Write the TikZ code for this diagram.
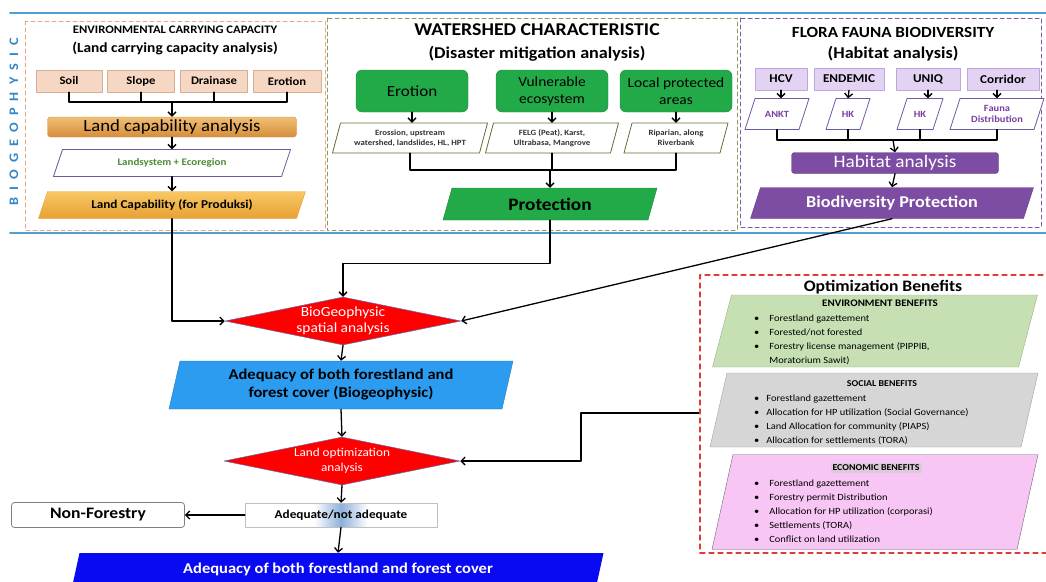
\documentclass[tikz,border=0pt]{standalone}
\usepackage{fontspec}
\setmainfont{Carlito}[FakeStretch=1.1]
\usetikzlibrary{shapes.geometric,arrows.meta,positioning}
\definecolor{bandblue}{HTML}{4F9FD2}
\definecolor{geoblue}{HTML}{2F86C8}
\definecolor{ecdash}{HTML}{E9A580}
\definecolor{wsdash}{HTML}{8C9A5C}
\definecolor{fbdash}{HTML}{8458A8}
\definecolor{peachfill}{HTML}{F6D7C3}
\definecolor{peachline}{HTML}{D8AE92}
\definecolor{lcatop}{HTML}{F0BE74}
\definecolor{lcabot}{HTML}{D58E3C}
\definecolor{captop}{HTML}{F8C865}
\definecolor{capbot}{HTML}{E8A032}
\definecolor{lsline}{HTML}{7457A4}
\definecolor{lstext}{HTML}{4D8A33}
\definecolor{wsgreen}{HTML}{22AA48}
\definecolor{wsline}{HTML}{5E7030}
\definecolor{lavfill}{HTML}{E3D3F3}
\definecolor{lavline}{HTML}{C2A5E0}
\definecolor{habtext}{HTML}{7B3FA2}
\definecolor{habfill}{HTML}{7C4DA2}
\definecolor{redfill}{HTML}{FF0000}
\definecolor{redline}{HTML}{5A6EB0}
\definecolor{adqblue}{HTML}{2C9CF0}
\definecolor{adqmid}{HTML}{8CB0DA}
\definecolor{finalblue}{HTML}{0A0AF2}
\definecolor{optred}{HTML}{E03A3A}
\definecolor{envfill}{HTML}{C6E0B4}
\definecolor{envline}{HTML}{98AE86}
\definecolor{socfill}{HTML}{D6D6D6}
\definecolor{socline}{HTML}{A2A2A2}
\definecolor{ecofill}{HTML}{F8C6F4}
\definecolor{ecoline}{HTML}{6E6478}
\definecolor{ecotag}{HTML}{DCCAD8}
\pgfdeclarehorizontalshading{adqshade}{100bp}{color(0bp)=(white); color(43bp)=(white); color(50bp)=(adqmid); color(57bp)=(white); color(100bp)=(white)}
% parallelogram: path style, text style, name, cx, cy, width, height, slant, text
\newcommand{\pgram}[9]{%
  \path[#1] ({#4-#6/2},{#5+#7/2}) -- ({#4+#6/2-#8},{#5+#7/2}) -- ({#4+#6/2},{#5-#7/2}) -- ({#4-#6/2+#8},{#5-#7/2}) -- cycle;
  \node[minimum width={#6-#8},minimum height=#7,inner sep=0pt,align=center,#2] (#3) at (#4,#5) {#9};}
\tikzset{
  link/.style={line width=1.3pt},
  flow/.style={line width=1.3pt,->},
  panel/.style={line width=1pt,dash pattern=on 4pt off 3pt},
  peachbox/.style={draw=peachline,fill=peachfill,minimum height=22pt,inner sep=0pt,font=\bfseries\fontsize{11.5}{13}\selectfont},
  greenbox/.style={draw=wsgreen!80!black,fill=wsgreen,rounded corners=6pt,minimum width=112pt,minimum height=42pt,inner sep=0pt,align=center},
  wsline/.style={draw=wsline,fill=white,line width=0.8pt},
  wstext/.style={text=black!80,font=\bfseries\fontsize{8}{10}\selectfont},
  lavbox/.style={draw=lavline,fill=lavfill,minimum height=22pt,inner sep=0pt,font=\bfseries\fontsize{12}{14}\selectfont},
  habline/.style={draw=lsline,fill=white,line width=0.8pt},
  habtxt/.style={text=habtext,font=\bfseries\fontsize{9.5}{11}\selectfont},
  decide/.style={diamond,shape aspect=4.9,draw=redline,line width=0.5pt,fill=redfill,text=white,align=center,inner sep=0pt,minimum width=236pt,minimum height=48pt},
  benefit/.style={anchor=north west,inner sep=0pt,font=\fontsize{9.5}{14}\selectfont}
}
\begin{document}
\begin{tikzpicture}[x=1pt,y=-1pt,line cap=round,line join=round,>={Straight Barb[length=4pt,width=8pt]}]
  \useasboundingbox (0,0) rectangle (1046,581);
  \draw[bandblue,line width=2pt] (10,13) -- (1046,13);
  \draw[bandblue,line width=2pt] (10,233) -- (1046,233);
  \node[rotate=90,text=geoblue,font=\bfseries\fontsize{13}{15}\selectfont\addfontfeature{LetterSpace=55}] (band) at (14,122) {BIOGEOPHYSIC};
  \draw[panel,ecdash] (25,21) rectangle (325,230);
  \draw[panel,wsdash] (327,18) rectangle (737,230);
  \draw[panel,fbdash] (740,18) rectangle (1041,227);

  \node[font=\bfseries\fontsize{11.5}{13}\selectfont] (ectitle) at (175,30) {ENVIRONMENTAL CARRYING CAPACITY};
  \node[font=\bfseries\fontsize{14}{16}\selectfont] (ecsub) at (175,48) {(Land carrying capacity analysis)};
  \node[peachbox,minimum width=66pt] (soil) at (69,81) {Soil};
  \node[peachbox,minimum width=67pt] (slope) at (141,81) {Slope};
  \node[peachbox,minimum width=67pt] (drainase) at (214,81) {Drainase};
  \node[peachbox,minimum width=68pt] (erotion) at (287,81) {Erotion};
  \node[draw=lcabot,top color=lcatop,bottom color=lcabot,rounded corners=3pt,minimum width=249pt,minimum height=20pt,inner sep=0pt,font=\fontsize{17}{19}\selectfont] (lca) at (172,127) {Land capability analysis};
  \pgram{draw=lsline,fill=white,line width=0.8pt}{text=lstext,font=\bfseries\fontsize{10}{12}\selectfont}{lsys}{172}{163}{237}{27}{9}{Landsystem + Ecoregion}
  \pgram{draw=capbot,top color=captop,bottom color=capbot}{font=\bfseries\fontsize{12}{14}\selectfont}{landcap}{172}{205}{267}{27}{9}{Land Capability (for Produksi)}
  \coordinate (ecjoin) at (172,102);
  \draw[link] (soil.south) |- (ecjoin) (erotion.south) |- (ecjoin) (slope.south) -- (slope.south |- ecjoin) (drainase.south) -- (drainase.south |- ecjoin);
  \draw[flow] (ecjoin) -- (lca.north);
  \draw[flow] (lca.south) -- (lsys.north);
  \draw[flow] (lsys.south) -- (landcap.north);

  \node[font=\bfseries\fontsize{18}{20}\selectfont] (wstitle) at (537,30) {WATERSHED CHARACTERISTIC};
  \node[font=\bfseries\fontsize{16.5}{18}\selectfont] (wssub) at (537,54) {(Disaster mitigation analysis)};
  \node[greenbox,font=\fontsize{15.5}{17}\selectfont] (wserot) at (412,91) {Erotion};
  \node[greenbox,font=\fontsize{14}{17}\selectfont] (wsvuln) at (552,91) {Vulnerable\\ecosystem};
  \node[greenbox,font=\fontsize{14}{17}\selectfont] (wslocal) at (676,91) {Local protected\\areas};
  \pgram{wsline}{wstext}{wsp1}{410}{138}{155}{30}{8}{Erossion, upstream\\watershed, landslides, HL, HPT}
  \pgram{wsline}{wstext}{wsp2}{552}{138}{133}{30}{8}{FELG (Peat), Karst,\\Ultrabasa, Mangrove}
  \pgram{wsline}{wstext}{wsp3}{676}{138}{104}{30}{8}{Riparian, along\\Riverbank}
  \pgram{draw=wsgreen!80!black,fill=wsgreen}{font=\bfseries\fontsize{17.5}{19}\selectfont}{protect}{550}{204}{214}{32}{9}{Protection}
  \draw[flow] (wserot.south) -- (wserot.south |- wsp1.north);
  \draw[flow] (wsvuln.south) -- (wsp2.north);
  \draw[flow] (wslocal.south) -- (wsp3.north);
  \coordinate (wsjoin) at (550,170);
  \draw[link] (wsp1.south) |- (wsjoin) (wsp3.south) |- (wsjoin) (wsp2.south) -- (wsp2.south |- wsjoin);
  \draw[flow] (wsjoin) -- (protect.north);

  \node[font=\bfseries\fontsize{15.5}{17}\selectfont] (fbtitle) at (893,32) {FLORA FAUNA BIODIVERSITY};
  \node[font=\bfseries\fontsize{16.5}{18}\selectfont] (fbsub) at (893,54) {(Habitat analysis)};
  \node[lavbox,minimum width=52pt] (hcv) at (781,79) {HCV};
  \node[lavbox,minimum width=70pt] (endemic) at (849,79) {ENDEMIC};
  \node[lavbox,minimum width=64pt] (uniq) at (928,79) {UNIQ};
  \node[lavbox,minimum width=72pt] (corridor) at (1003,79) {Corridor};
  \pgram{habline}{habtxt}{ankt}{777}{114}{64}{31}{10}{ANKT}
  \pgram{habline}{habtxt}{hk1}{848}{114}{44}{31}{10}{HK}
  \pgram{habline}{habtxt}{hk2}{920}{114}{46}{31}{10}{HK}
  \pgram{habline}{habtxt}{fauna}{997}{114}{94}{31}{10}{Fauna\\Distribution}
  \node[draw=habfill!80!black,fill=habfill,rounded corners=3pt,minimum width=207pt,minimum height=21pt,inner sep=0pt,text=white,font=\fontsize{17.5}{19}\selectfont] (habitat) at (895,163) {Habitat analysis};
  \pgram{draw=habfill!80!black,fill=habfill}{text=white,font=\bfseries\fontsize{16.5}{18}\selectfont}{biodiv}{892}{203}{283}{31}{10}{Biodiversity Protection}
  \draw[flow] (hcv.south) -- (hcv.south |- ankt.north);
  \draw[flow] (endemic.south) -- (hk1.north);
  \draw[flow] (uniq.south) -- (uniq.south |- hk2.north);
  \draw[flow] (fauna.north |- corridor.south) -- (fauna.north);
  \coordinate (fbjoin) at (893,140);
  \draw[link] (ankt.south) |- (fbjoin) (fauna.south) |- (fbjoin) (hk1.south) -- (hk1.south |- fbjoin) (hk2.south) -- (hk2.south |- fbjoin);
  \draw[flow] (fbjoin) -- (habitat.north);
  \draw[flow] (habitat.south) -- (biodiv.north);

  \node[decide,font=\fontsize{14}{16}\selectfont] (biogeo) at (343,321) {BioGeophysic\\spatial analysis};
  \pgram{draw=adqblue!80!black,fill=adqblue}{font=\bfseries\fontsize{15}{18}\selectfont}{adq}{341}{385}{344}{48}{11}{Adequacy of both forestland and\\forest cover (Biogeophysic)}
  \node[decide,font=\fontsize{12}{15}\selectfont] (landopt) at (342,461) {Land optimization\\analysis};
  \node[draw=black!25,shading=adqshade,minimum width=192pt,minimum height=24pt,inner sep=0pt,font=\bfseries\fontsize{12}{14}\selectfont] (adeq) at (341,515) {Adequate/not adequate};
  \node[draw=gray,line width=0.8pt,fill=white,rounded corners=3pt,minimum width=173pt,minimum height=25pt,inner sep=0pt,font=\bfseries\fontsize{16}{18}\selectfont] (nonfor) at (98,515) {Non-Forestry};
  \pgram{fill=finalblue}{text=white,font=\bfseries\fontsize{15}{17}\selectfont}{final}{338}{569}{531}{32}{7}{Adequacy of both forestland and forest cover}
  \draw[flow] (landcap.south) |- (biogeo.west);
  \draw[flow] (protect.south) -- ++(0,43) -| (biogeo.north);
  \draw[flow] (biodiv.south) -- (biogeo.east);
  \draw[flow] (biogeo.south) -- (adq.north);
  \draw[flow] (adq.south) -- (landopt.north);
  \coordinate (optin) at (700,413);
  \draw[flow] (optin) -- ++(-119,0) |- (landopt.east);
  \draw[flow] (landopt.south) -- (adeq.north);
  \draw[flow] (adeq.west) -- (nonfor.east);
  \draw[flow] (adeq.south) -- (final.north);

  \draw[optred,line width=1.2pt,dash pattern=on 5pt off 4pt] (1052,275) -- (700,275) -- (700,553) -- (1052,553);
  \node[font=\bfseries\fontsize{16}{18}\selectfont] (opttitle) at (883,287) {Optimization Benefits};
  \pgram{draw=envline,fill=envfill}{}{envbox}{875}{331}{325}{72}{19}{}
  \pgram{draw=socline,fill=socfill}{}{socbox}{874}{410}{328}{74}{17}{}
  \pgram{draw=ecoline,fill=ecofill}{}{ecobox}{875}{502}{326}{95}{21}{}
  \node[font=\bfseries\fontsize{10}{12}\selectfont] (envhead) at (880,303) {ENVIRONMENT BENEFITS};
  \node[font=\bfseries\fontsize{9}{11}\selectfont] (sochead) at (882,384) {SOCIAL BENEFITS};
  \node[fill=ecotag,inner sep=2pt,font=\bfseries\fontsize{9}{11}\selectfont] (ecohead) at (876,468) {ECONOMIC BENEFITS};
  \node[benefit] (envlist) at (754,311) {\begin{tabular}{@{}l@{\hspace{10pt}}l@{}}
    \textbullet & Forestland gazettement\\
    \textbullet & Forested/not forested\\
    \textbullet & Forestry license management (PIPPIB,\\
     & Moratorium Sawit)
  \end{tabular}};
  \node[benefit] (soclist) at (754,391) {\begin{tabular}{@{}l@{\hspace{7pt}}l@{}}
    \textbullet & Forestland gazettement\\
    \textbullet & Allocation for HP utilization (Social Governance)\\
    \textbullet & Land Allocation for community (PIAPS)\\
    \textbullet & Allocation for settlements (TORA)
  \end{tabular}};
  \node[benefit] (ecolist) at (754,476) {\begin{tabular}{@{}l@{\hspace{10pt}}l@{}}
    \textbullet & Forestland gazettement\\
    \textbullet & Forestry permit Distribution\\
    \textbullet & Allocation for HP utilization (corporasi)\\
    \textbullet & Settlements (TORA)\\
    \textbullet & Conflict on land utilization
  \end{tabular}};
\end{tikzpicture}
\end{document}
